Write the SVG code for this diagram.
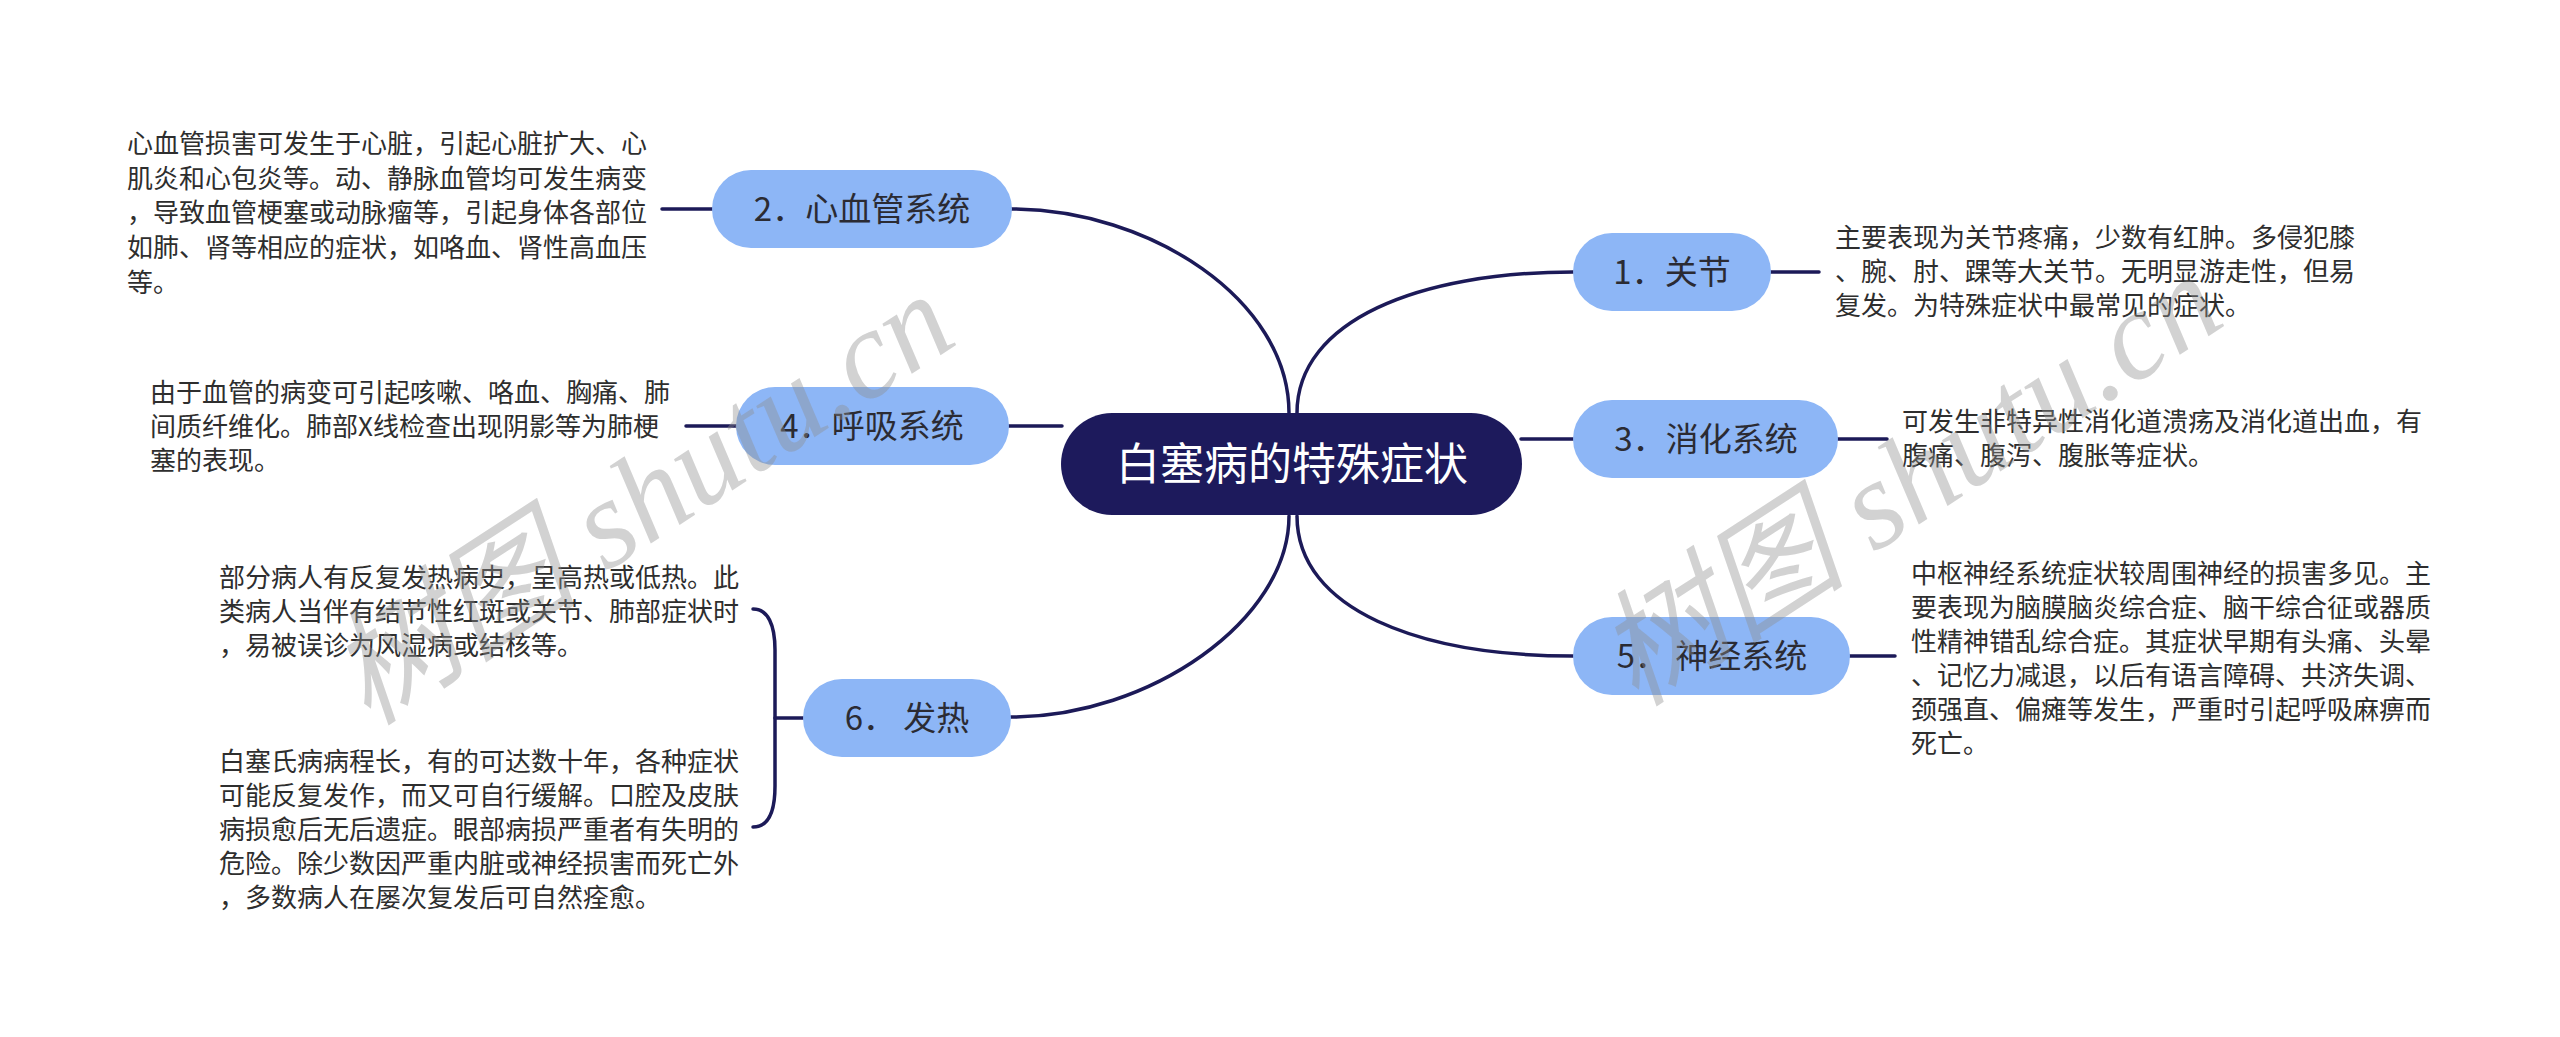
<svg xmlns="http://www.w3.org/2000/svg" width="2560" height="1037" viewBox="0 0 2560 1037">
<defs>
<style>
.conn{fill:none;stroke:#1c1a58;stroke-width:3.5;stroke-linecap:round}
.sub rect{fill:#8db6f6}
.lbl{font-family:"Noto Sans CJK SC","Noto Sans",sans-serif;font-size:33px;fill:#2b2b33;text-anchor:middle}
.desc{font-family:"Noto Sans CJK SC","Noto Sans",sans-serif;font-size:26px;fill:#2e2e2e}
.wm{font-family:"Liberation Serif","Noto Sans CJK SC",serif;font-style:italic;font-size:126px;fill:#8f8f8f;fill-opacity:0.4}
</style>
</defs>
<rect width="2560" height="1037" fill="#ffffff"/>
<g id="connectors">
<path class="conn" d="M1011,209 C1150,209 1289,300 1289,413"/>
<path class="conn" d="M1297,413 C1297,320 1420,272 1573,272"/>
<path class="conn" d="M1009,426 L1062,426"/>
<path class="conn" d="M1521,439 L1573,439"/>
<path class="conn" d="M1289,516 C1289,620 1150,717 1011,717"/>
<path class="conn" d="M1297,516 C1297,610 1420,656 1573,656"/>
<path class="conn" d="M662,209 L712,209"/>
<path class="conn" d="M686,426 L736,426"/>
<path class="conn" d="M1771,272 L1819,272"/>
<path class="conn" d="M1838,439 L1887,439"/>
<path class="conn" d="M1850,656 L1895,656"/>
<path class="conn" d="M753,609 C768,609 775,625 775,650 L775,786 C775,812 768,827 753,827"/>
<path class="conn" d="M775,718 L803,718"/>
</g>
<g id="root">
<rect x="1061" y="413" width="461" height="102" rx="51" fill="#1d1a5c"/>
<text x="1292" y="480" font-family="Noto Sans CJK SC, Noto Sans, sans-serif" font-size="44" fill="#ffffff" text-anchor="middle">白塞病的特殊症状</text>
</g>
<g id="n1" class="sub">
<rect x="1573" y="233" width="198" height="78" rx="39"/>
<text class="lbl" x="1672" y="284">1．关节</text>
</g>
<g id="n2" class="sub">
<rect x="712" y="170" width="300" height="78" rx="39"/>
<text class="lbl" x="862" y="221">2．心血管系统</text>
</g>
<g id="n3" class="sub">
<rect x="1573" y="400" width="265" height="78" rx="39"/>
<text class="lbl" x="1706" y="451">3．消化系统</text>
</g>
<g id="n4" class="sub">
<rect x="736" y="387" width="273" height="78" rx="39"/>
<text class="lbl" x="872" y="438">4．呼吸系统</text>
</g>
<g id="n5" class="sub">
<rect x="1573" y="617" width="277" height="78" rx="39"/>
<text class="lbl" x="1712" y="668">5． 神经系统</text>
</g>
<g id="n6" class="sub">
<rect x="803" y="679" width="208" height="78" rx="39"/>
<text class="lbl" x="907" y="730">6． 发热</text>
</g>
<g id="d2">
<text class="desc" x="127" y="153"><tspan x="127">心血管损害可发生于心脏，引起心脏扩大、心</tspan><tspan x="127" dy="34.7">肌炎和心包炎等。动、静脉血管均可发生病变</tspan><tspan x="127" dy="34.7">，导致血管梗塞或动脉瘤等，引起身体各部位</tspan><tspan x="127" dy="34.7">如肺、肾等相应的症状，如咯血、肾性高血压</tspan><tspan x="127" dy="34.7">等。</tspan></text>
</g>
<g id="d4">
<text class="desc" x="150" y="402"><tspan x="150">由于血管的病变可引起咳嗽、咯血、胸痛、肺</tspan><tspan x="150" dy="34">间质纤维化。肺部X线检查出现阴影等为肺梗</tspan><tspan x="150" dy="34">塞的表现。</tspan></text>
</g>
<g id="d6a">
<text class="desc" x="219" y="587"><tspan x="219">部分病人有反复发热病史，呈高热或低热。此</tspan><tspan x="219" dy="34">类病人当伴有结节性红斑或关节、肺部症状时</tspan><tspan x="219" dy="34">，易被误诊为风湿病或结核等。</tspan></text>
</g>
<g id="d6b">
<text class="desc" x="219" y="771"><tspan x="219">白塞氏病病程长，有的可达数十年，各种症状</tspan><tspan x="219" dy="34">可能反复发作，而又可自行缓解。口腔及皮肤</tspan><tspan x="219" dy="34">病损愈后无后遗症。眼部病损严重者有失明的</tspan><tspan x="219" dy="34">危险。除少数因严重内脏或神经损害而死亡外</tspan><tspan x="219" dy="34">，多数病人在屡次复发后可自然痊愈。</tspan></text>
</g>
<g id="d1">
<text class="desc" x="1835" y="247"><tspan x="1835">主要表现为关节疼痛，少数有红肿。多侵犯膝</tspan><tspan x="1835" dy="34">、腕、肘、踝等大关节。无明显游走性，但易</tspan><tspan x="1835" dy="34">复发。为特殊症状中最常见的症状。</tspan></text>
</g>
<g id="d3">
<text class="desc" x="1902" y="431"><tspan x="1902">可发生非特异性消化道溃疡及消化道出血，有</tspan><tspan x="1902" dy="34">腹痛、腹泻、腹胀等症状。</tspan></text>
</g>
<g id="d5">
<text class="desc" x="1911" y="583"><tspan x="1911">中枢神经系统症状较周围神经的损害多见。主</tspan><tspan x="1911" dy="34">要表现为脑膜脑炎综合症、脑干综合征或器质</tspan><tspan x="1911" dy="34">性精神错乱综合症。其症状早期有头痛、头晕</tspan><tspan x="1911" dy="34">、记忆力减退，以后有语言障碍、共济失调、</tspan><tspan x="1911" dy="34">颈强直、偏瘫等发生，严重时引起呼吸麻痹而</tspan><tspan x="1911" dy="34">死亡。</tspan></text>
</g>
<g id="watermarks">
<text class="wm" transform="translate(368,727) rotate(-33)">树图 shutu.cn</text>
<text class="wm" transform="translate(1636,708) rotate(-33)">树图 shutu.cn</text>
</g>
</svg>
